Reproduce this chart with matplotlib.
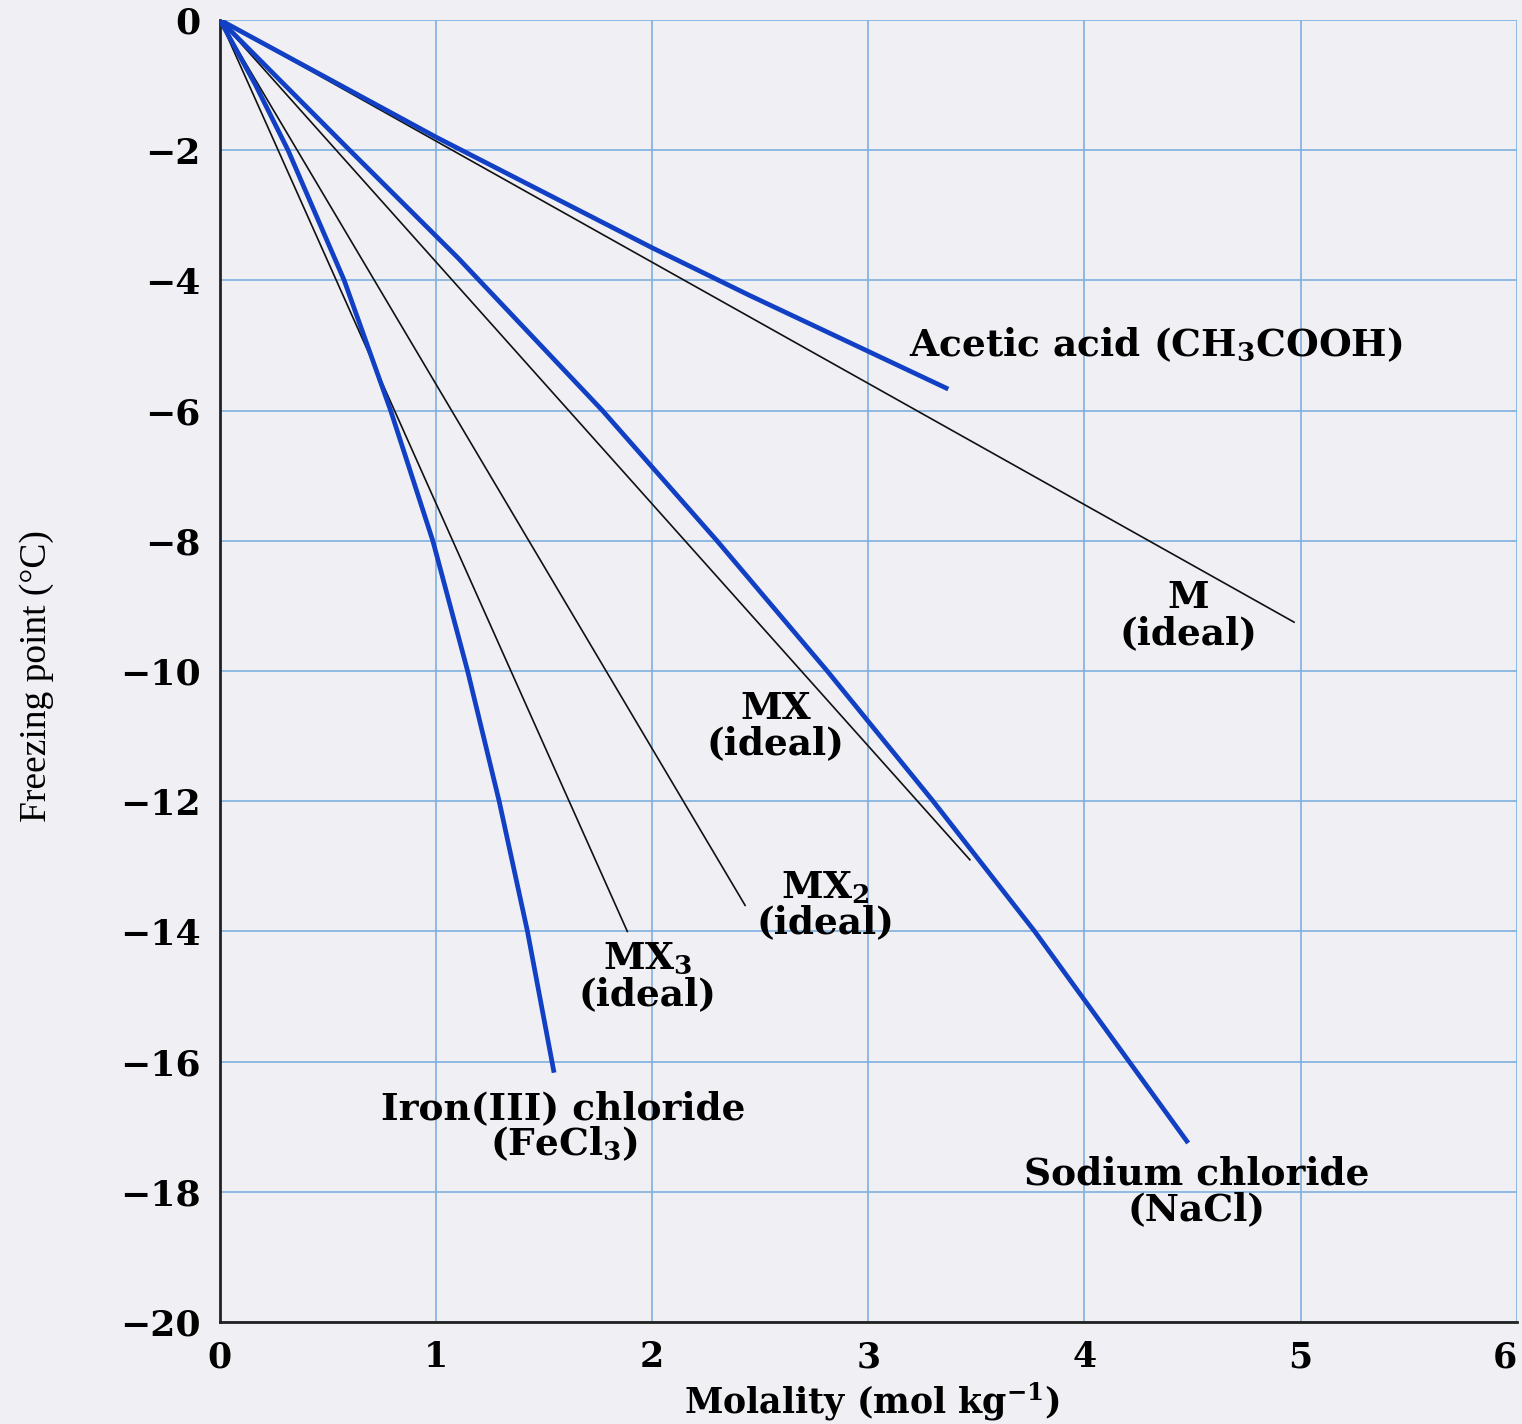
import matplotlib
matplotlib.use("Agg")
from matplotlib import pyplot as plt

plt.rcParams['font.family'] = ['DejaVu Serif']
plt.rcParams['mathtext.fontset'] = 'custom'
plt.rcParams['mathtext.rm'] = 'DejaVu Serif:bold'
plt.rcParams['mathtext.it'] = 'DejaVu Serif:bold'
plt.rcParams['mathtext.bf'] = 'DejaVu Serif:bold'

# ideal lines (start, end)
m_x = [0, 4.97]
m_y = [0, -9.25]
mx_x = [0, 3.47]
mx_y = [0, -12.9]
mx2_x = [0, 2.43]
mx2_y = [0, -13.6]
mx3_x = [0, 1.885]
mx3_y = [0, -14.0]

# measured curves
acetic_x = [0, 1.0, 2.0, 2.45, 3.37]
acetic_y = [0, -1.8, -3.5, -4.23, -5.67]
nacl_x = [0, 0.30, 0.60, 1.10, 1.77, 2.30, 2.81, 3.30, 3.77, 4.48]
nacl_y = [0, -1.0, -2, -3.65, -6, -8, -10, -12, -14, -17.25]
fecl3_x = [0, 0.165, 0.315, 0.575, 0.79, 0.985, 1.146, 1.292, 1.423, 1.546]
fecl3_y = [0, -1, -2, -4, -6, -8, -10, -12, -14, -16.17]

xticks = [0, 1, 2, 3, 4, 5, 6]
yticks = [0, -2, -4, -6, -8, -10, -12, -14, -16, -18, -20]

bg = '#efeff4'
blue = '#1240c4'
gridc = '#7fb0e0'

fig = plt.figure(figsize=(15.22, 14.24), dpi=100, facecolor=bg)
ax = fig.add_axes([0.1445, 0.0716, 0.852, 0.9144])
ax.set_facecolor(bg)

for xs, ys in [(m_x, m_y), (mx_x, mx_y), (mx2_x, mx2_y), (mx3_x, mx3_y)]:
    ax.plot(xs, ys, color='#111111', lw=1.2, zorder=3)
for xs, ys in [(acetic_x, acetic_y), (nacl_x, nacl_y), (fecl3_x, fecl3_y)]:
    ax.plot(xs, ys, color=blue, lw=3.4, zorder=4, solid_capstyle='butt',
            solid_joinstyle='round')

ax.set_xlim(0, 6)
ax.set_ylim(-20, 0)
ax.set_xticks(xticks)
ax.set_yticks(yticks)
ax.set_xticklabels([str(v) for v in xticks])
ax.set_yticklabels([str(v).replace('-', '\u2212') for v in yticks])
ax.tick_params(length=0, labelsize=26)
ax.tick_params(axis='x', pad=13, labelsize=25)
ax.tick_params(axis='y', pad=14)
for lab in ax.get_xticklabels() + ax.get_yticklabels():
    lab.set_fontweight('bold')
ax.get_xticklabels()[-1].set_ha('right')
ax.grid(True, color=gridc, lw=1.2)
ax.set_axisbelow(True)
for s in ['top', 'right']:
    ax.spines[s].set_visible(False)
for s in ['left', 'bottom']:
    ax.spines[s].set_linewidth(2.0)
    ax.spines[s].set_color('#222222')

ax.set_xlabel('Molality (mol kg$^{-1}$)', fontsize=25, fontweight='bold')
ax.xaxis.set_label_coords(0.503, -0.045)
ax.set_ylabel('Freezing point (\u00b0C)', fontsize=27, family='Liberation Serif')
ax.yaxis.set_label_coords(-0.128, 0.496)

tk = dict(fontsize=27, fontweight='bold', ha='center', va='center', linespacing=0.95, zorder=5)
ax.text(3.19, -5.0, 'Acetic acid (CH$_3$COOH)', **dict(tk, ha='left'))
ax.text(4.48, -9.15, 'M\n(ideal)', **tk)
ax.text(2.57, -10.85, 'MX\n(ideal)', **tk)
ax.text(2.80, -13.6, 'MX$_2$\n(ideal)', **tk)
ax.text(1.98, -14.7, 'MX$_3$\n(ideal)', **tk)
ax.text(1.59, -17.0, 'Iron(III) chloride\n(FeCl$_3$)', **tk)
ax.text(4.52, -18.0, 'Sodium chloride\n(NaCl)', **tk)

fig.savefig('out.png', dpi=100, facecolor=bg)
